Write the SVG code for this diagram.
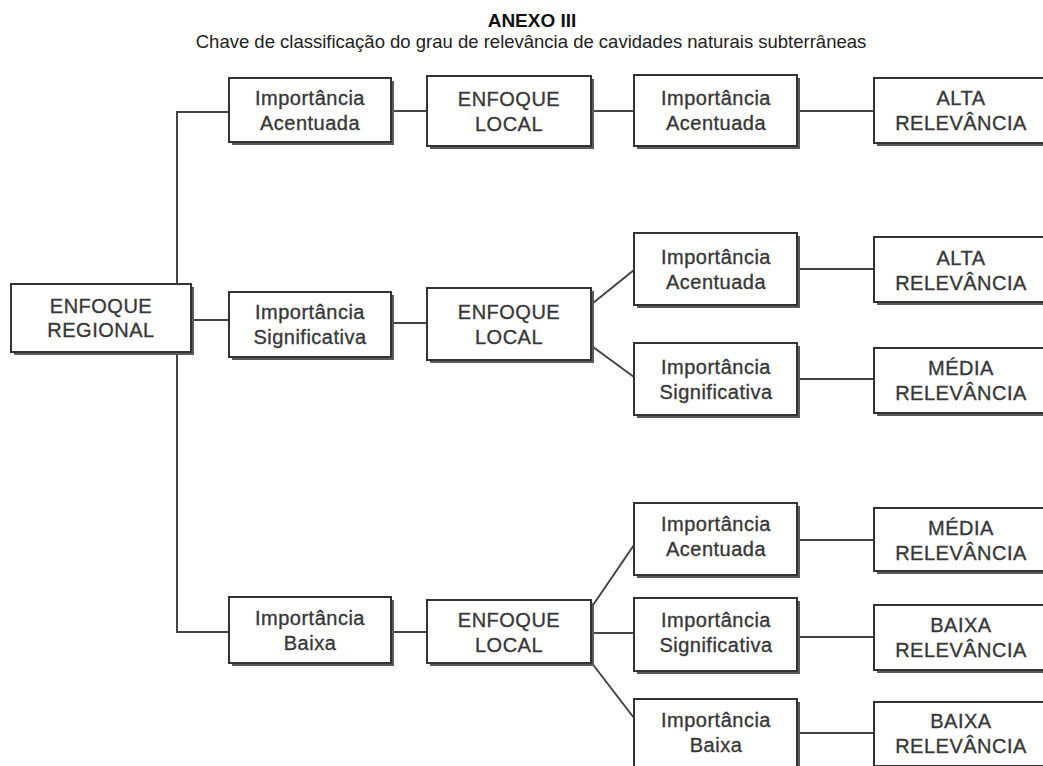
<svg xmlns="http://www.w3.org/2000/svg" width="1043" height="766" viewBox="0 0 1043 766">
<style>
.bg{fill:#ffffff}
.sh{fill:#5a5a5a}
.bx{fill:#ffffff;stroke:#333333;stroke-width:2}
.t{font-family:"Liberation Sans",Arial,sans-serif;font-size:20px;letter-spacing:0.5px;fill:#383838;stroke:#383838;stroke-width:0.35;text-anchor:middle}
.ln{stroke:#444444;stroke-width:2;fill:none}
.title{font-family:"Liberation Sans",Arial,sans-serif;font-size:19px;font-weight:bold;fill:#111111;text-anchor:middle}
.sub{font-family:"Liberation Sans",Arial,sans-serif;font-size:18.5px;fill:#222222;text-anchor:middle}
</style>
<rect class="bg" x="0" y="0" width="1043" height="766"/>
<text class="title" x="532" y="27">ANEXO III</text>
<text class="sub" x="531" y="48">Chave de classificação do grau de relevância de cavidades naturais subterrâneas</text>

<g id="connectors">
<path class="ln" d="M229,112 H177 V632 H229"/>
<path class="ln" d="M391,111 H427 M591,111 H634 M797,111 H874"/>
<path class="ln" d="M191,320 H229 M391,323 H427"/>
<path class="ln" d="M593,303 L634,270 M593,347 L634,377"/>
<path class="ln" d="M797,269 H874 M797,379 H874"/>
<path class="ln" d="M391,632 H427"/>
<path class="ln" d="M591,608 L634,545 M591,633 H634 M591,662 L634,718"/>
<path class="ln" d="M797,540 H874 M797,637 H874 M797,733 H874"/>
</g>

<g id="enfoque-regional">
<rect class="sh" x="14" y="287" width="180" height="68"/>
<rect class="bx" x="11" y="284" width="180" height="68"/>
<text class="t" x="101" y="313">ENFOQUE</text>
<text class="t" x="101" y="337">REGIONAL</text>
</g>

<g id="r1-importancia-acentuada">
<rect class="sh" x="232" y="81" width="162" height="64"/>
<rect class="bx" x="229" y="78" width="162" height="64"/>
<text class="t" x="310" y="105">Importância</text>
<text class="t" x="310" y="130">Acentuada</text>
</g>
<g id="r1-enfoque-local">
<rect class="sh" x="430" y="79" width="164" height="70"/>
<rect class="bx" x="427" y="76" width="164" height="70"/>
<text class="t" x="509" y="106">ENFOQUE</text>
<text class="t" x="509" y="131">LOCAL</text>
</g>
<g id="r1-local-acentuada">
<rect class="sh" x="637" y="78" width="163" height="71"/>
<rect class="bx" x="634" y="75" width="163" height="71"/>
<text class="t" x="716" y="105">Importância</text>
<text class="t" x="716" y="130">Acentuada</text>
</g>
<g id="r1-alta">
<rect class="sh" x="877" y="81" width="176" height="65"/>
<rect class="bx" x="874" y="78" width="176" height="65"/>
<text class="t" x="961" y="105">ALTA</text>
<text class="t" x="961" y="130">RELEVÂNCIA</text>
</g>

<g id="r2-importancia-significativa">
<rect class="sh" x="232" y="295" width="162" height="65"/>
<rect class="bx" x="229" y="292" width="162" height="65"/>
<text class="t" x="310" y="319">Importância</text>
<text class="t" x="310" y="344">Significativa</text>
</g>
<g id="r2-enfoque-local">
<rect class="sh" x="430" y="291" width="164" height="72"/>
<rect class="bx" x="427" y="288" width="164" height="72"/>
<text class="t" x="509" y="319">ENFOQUE</text>
<text class="t" x="509" y="344">LOCAL</text>
</g>
<g id="r2-local-acentuada">
<rect class="sh" x="637" y="236" width="163" height="72"/>
<rect class="bx" x="634" y="233" width="163" height="72"/>
<text class="t" x="716" y="264">Importância</text>
<text class="t" x="716" y="289">Acentuada</text>
</g>
<g id="r2-alta">
<rect class="sh" x="877" y="240" width="176" height="65"/>
<rect class="bx" x="874" y="237" width="176" height="65"/>
<text class="t" x="961" y="265">ALTA</text>
<text class="t" x="961" y="290">RELEVÂNCIA</text>
</g>
<g id="r2-local-significativa">
<rect class="sh" x="637" y="346" width="163" height="72"/>
<rect class="bx" x="634" y="343" width="163" height="72"/>
<text class="t" x="716" y="374">Importância</text>
<text class="t" x="716" y="399">Significativa</text>
</g>
<g id="r2-media">
<rect class="sh" x="877" y="351" width="176" height="65"/>
<rect class="bx" x="874" y="348" width="176" height="65"/>
<text class="t" x="961" y="375">MÉDIA</text>
<text class="t" x="961" y="400">RELEVÂNCIA</text>
</g>

<g id="r3-importancia-baixa">
<rect class="sh" x="232" y="600" width="162" height="66"/>
<rect class="bx" x="229" y="597" width="162" height="66"/>
<text class="t" x="310" y="625">Importância</text>
<text class="t" x="310" y="650">Baixa</text>
</g>
<g id="r3-enfoque-local">
<rect class="sh" x="430" y="603" width="164" height="63"/>
<rect class="bx" x="427" y="600" width="164" height="63"/>
<text class="t" x="509" y="627">ENFOQUE</text>
<text class="t" x="509" y="652">LOCAL</text>
</g>
<g id="r3-local-acentuada">
<rect class="sh" x="637" y="506" width="163" height="72"/>
<rect class="bx" x="634" y="503" width="163" height="72"/>
<text class="t" x="716" y="531">Importância</text>
<text class="t" x="716" y="556">Acentuada</text>
</g>
<g id="r3-media">
<rect class="sh" x="877" y="511" width="176" height="63"/>
<rect class="bx" x="874" y="508" width="176" height="63"/>
<text class="t" x="961" y="535">MÉDIA</text>
<text class="t" x="961" y="560">RELEVÂNCIA</text>
</g>
<g id="r3-local-significativa">
<rect class="sh" x="637" y="601" width="163" height="73"/>
<rect class="bx" x="634" y="598" width="163" height="73"/>
<text class="t" x="716" y="627">Importância</text>
<text class="t" x="716" y="652">Significativa</text>
</g>
<g id="r3-baixa-1">
<rect class="sh" x="877" y="608" width="176" height="65"/>
<rect class="bx" x="874" y="605" width="176" height="65"/>
<text class="t" x="961" y="632">BAIXA</text>
<text class="t" x="961" y="657">RELEVÂNCIA</text>
</g>
<g id="r3-local-baixa">
<rect class="sh" x="637" y="702" width="163" height="72"/>
<rect class="bx" x="634" y="699" width="163" height="72"/>
<text class="t" x="716" y="727">Importância</text>
<text class="t" x="716" y="752">Baixa</text>
</g>
<g id="r3-baixa-2">
<rect class="sh" x="877" y="705" width="176" height="64"/>
<rect class="bx" x="874" y="702" width="176" height="64"/>
<text class="t" x="961" y="728">BAIXA</text>
<text class="t" x="961" y="753">RELEVÂNCIA</text>
</g>
</svg>
